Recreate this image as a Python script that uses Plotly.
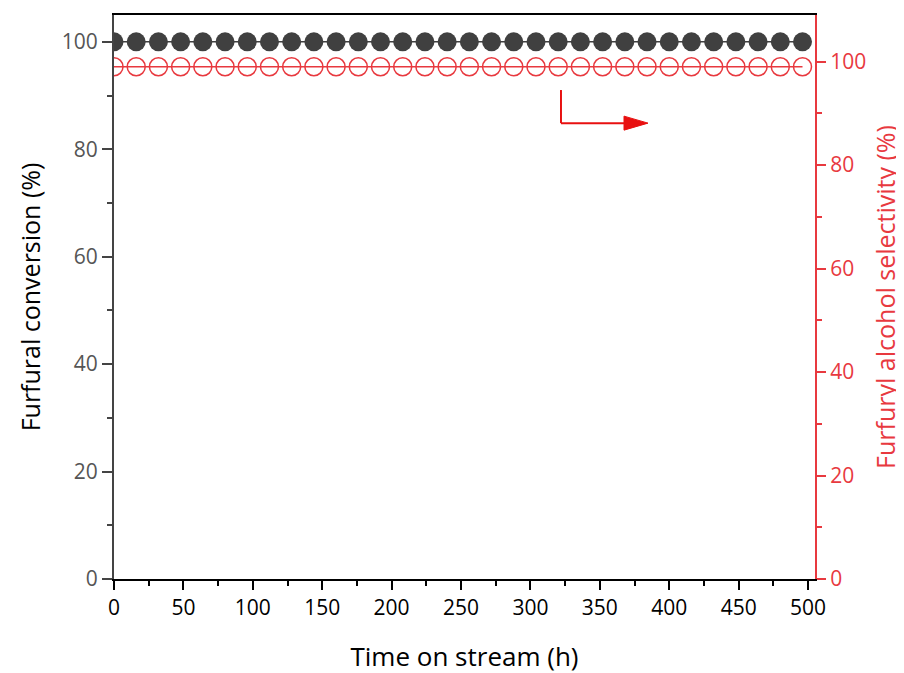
import plotly.graph_objects as go

time_h = [0, 16, 32, 48, 64, 80, 96, 112, 128, 144, 160, 176, 192, 208, 224, 240,
          256, 272, 288, 304, 320, 336, 352, 368, 384, 400, 416, 432, 448, 464, 480, 496]
conversion = [100] * 16 + [100] * 16
selectivity = [99] * 16 + [99] * 16

x_ticks = [0, 50, 100, 150, 200, 250, 300, 350, 400, 450, 500]
y_ticks = [0, 20, 40, 60, 80, 100]

RED = "#e8393f"
ARROW = "#e81010"
DARK = "#404040"
FONT = "Open Sans"

fig = go.Figure()
fig.add_trace(go.Scatter(
    x=time_h, y=conversion, mode="lines+markers", yaxis="y",
    line=dict(color=DARK, width=1.5),
    marker=dict(symbol="circle", size=19, color=DARK, line=dict(width=0)),
    showlegend=False))
fig.add_trace(go.Scatter(
    x=time_h, y=selectivity, mode="lines+markers", yaxis="y2",
    line=dict(color=RED, width=1.5),
    marker=dict(symbol="circle-open", size=18, color=RED, line=dict(width=1.5)),
    showlegend=False))

# arrow pointing to right axis: vertical stem, horizontal shaft, triangular head
fig.add_shape(type="line", xref="x", yref="y2", x0=322, x1=322, y0=94.5, y1=88.1,
              line=dict(color=ARROW, width=2))
fig.add_shape(type="line", xref="x", yref="y2", x0=322, x1=372, y0=88.1, y1=88.1,
              line=dict(color=ARROW, width=2))
fig.add_shape(type="path", xref="x", yref="y2", xsizemode="pixel", ysizemode="pixel",
              xanchor=384.7, yanchor=88.1, path="M-24,-7 L0,0 L-24,7 Z",
              fillcolor=ARROW, line=dict(color=ARROW, width=1))

fig.update_layout(
    width=904, height=673,
    margin=dict(l=106, r=97, t=7, b=102, autoexpand=False),
    paper_bgcolor="white", plot_bgcolor="white",
    font=dict(family=FONT, size=21, color="black"),
    xaxis=dict(range=[0, 505], tickvals=x_ticks, showgrid=False, zeroline=False,
               showline=True, linecolor="black", linewidth=2, mirror=True,
               ticks="outside", ticklen=9, tickwidth=2, tickcolor="black",
               minor=dict(dtick=25, tick0=0, ticks="outside", ticklen=5, tickwidth=1.5, tickcolor="black"),
               tickfont=dict(size=21, color="black"),
               title=dict(text="Time on stream (h)", font=dict(size=26, color="black"), standoff=28)),
    yaxis=dict(range=[0, 105], tickvals=y_ticks, showgrid=False, zeroline=False,
               showline=True, linecolor="#444444", linewidth=2,
               ticks="outside", ticklen=10, tickwidth=2, tickcolor="#444444",
               minor=dict(dtick=10, tick0=0, ticks="outside", ticklen=5, tickwidth=1.5, tickcolor="#444444"),
               tickfont=dict(size=21, color="#555555"),
               title=dict(text="Furfural conversion (%)", font=dict(size=25, color="black"), standoff=14)),
    yaxis2=dict(range=[0, 109], tickvals=y_ticks, overlaying="y", side="right",
                showgrid=False, zeroline=False,
                showline=True, linecolor=RED, linewidth=2,
                ticks="outside", ticklen=9, tickwidth=2, tickcolor=RED,
                minor=dict(dtick=10, tick0=0, ticks="outside", ticklen=5, tickwidth=1.5, tickcolor=RED),
                tickfont=dict(size=21, color=RED),
                title=dict(text="Furfuryl alcohol selectivity (%)", font=dict(size=25, color=RED), standoff=12)),
)

fig.write_html("out.html")
